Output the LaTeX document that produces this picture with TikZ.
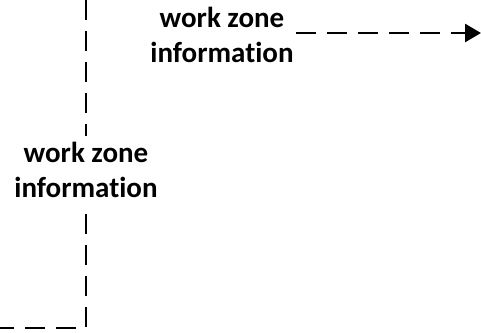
\documentclass[tikz,border=0pt]{standalone}
\usepackage{fontspec}
\setmainfont{Carlito}[Ligatures={NoCommon}]
\usetikzlibrary{arrows.meta}
\tikzset{
  flow/.style={line width=2.8pt,dash pattern=on 20pt off 11pt},
  lbl/.style={font=\fontsize{29}{35}\selectfont\bfseries,align=center,inner xsep=2pt,inner ysep=6pt}
}

\begin{document}
\begin{tikzpicture}[x=1pt,y=-1pt]
            \useasboundingbox (0,0) rectangle (481,332);
            \node[lbl] (infoleft) at (86,170) {work zone\\information};
            \node[lbl] (infotop) at (222,35) {work zone\\information};
            \coordinate (topend) at (86,0);
            \coordinate (corner) at (86,328);
            \coordinate (leftend) at (0,328);
            \coordinate (arrowend) at (481,33);
            \draw[flow] (topend)--(infoleft.north);
            \draw[flow,shorten <=10pt] (infoleft.south)--(corner)--(leftend);
            \draw[flow,-{Triangle[length=16pt,width=18pt]}] (infotop.east|-arrowend)--(arrowend);
        \end{tikzpicture}
\end{document}
